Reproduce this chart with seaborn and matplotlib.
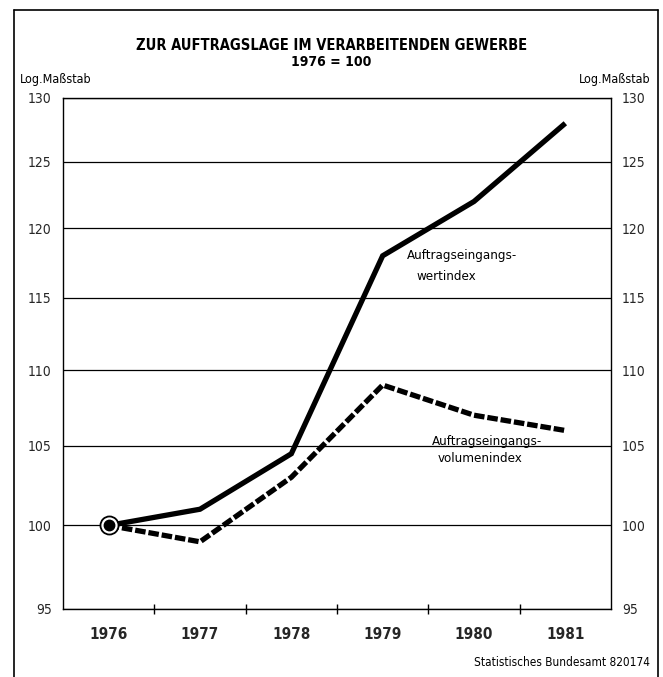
import numpy as np
import pandas as pd
import matplotlib
matplotlib.use("Agg")
import matplotlib.pyplot as plt
import seaborn as sns
from matplotlib.lines import Line2D
from matplotlib.ticker import FixedLocator, NullFormatter, NullLocator

# Data (1976 = 100)
years = [1976, 1977, 1978, 1979, 1980, 1981]
wertindex = [100, 101, 104.5, 118, 122, 128]
volumenindex = [100, 99, 103, 109, 107, 106]
y_ticks = [95, 100, 105, 110, 115, 120, 125, 130]

df = pd.DataFrame({
    "Jahr": years * 2,
    "Index": wertindex + volumenindex,
    "Reihe": ["wert"] * len(years) + ["volumen"] * len(years),
})

sns.set_theme(style="white")
plt.rcParams["font.family"] = ["DejaVu Sans"]
plt.rcParams["font.stretch"] = "condensed"
plt.rcParams["text.color"] = "black"

fig = plt.figure(figsize=(6.63, 6.77), dpi=100)
W, H = 663, 677
ax = fig.add_axes([63 / W, 1 - 609 / H, (611 - 63) / W, (609 - 98) / H])

sns.lineplot(data=df, x="Jahr", y="Index", style="Reihe", hue="Reihe",
             palette={"wert": "black", "volumen": "black"},
             dashes={"wert": "", "volumen": (2.0, 0.55)},
             linewidth=3.8, legend=False, ax=ax)
for ln in ax.get_lines():
    ln.set_solid_capstyle("butt")
    ln.set_dash_capstyle("butt")
    ln.set_solid_joinstyle("miter")

# start marker
ax.plot(years[0], wertindex[0], marker="o", ms=13, mfc="white", mec="black",
        mew=1.3, zorder=5)
ax.plot(years[0], wertindex[0], marker="o", ms=7.5, color="black", zorder=6)

ax.set_yscale("log")
ax.set_ylim(95, 130)
ax.yaxis.set_major_locator(FixedLocator(y_ticks))
ax.yaxis.set_minor_locator(NullLocator())
ax.set_yticklabels([str(t) for t in y_ticks])
ax.yaxis.set_minor_formatter(NullFormatter())
ax.tick_params(axis="y", which="both", length=0, pad=8, labelsize=10,
               left=True, right=True, labelleft=True, labelright=True)
ax.grid(axis="y", color="black", linewidth=0.9)

ax.set_xlim(years[0] - 0.5, years[-1] + 0.5)
ax.set_xticks(years)
ax.set_xticklabels([str(y) for y in years], fontweight="bold", fontsize=11)
ax.set_xticks([y + 0.5 for y in years[:-1]], minor=True)
ax.tick_params(axis="x", which="major", length=0, pad=13)
ax.tick_params(axis="x", which="minor", length=7, width=1, direction="inout",
               color="black", bottom=True)
ax.set_xlabel("")
ax.set_ylabel("")

for side in ["left", "right", "bottom", "top"]:
    ax.spines[side].set_visible(True)
    ax.spines[side].set_color("black")
    ax.spines[side].set_linewidth(1)

# labels on the lines
ax.text(1979.27, 118.0, "Auftragseingangs-", fontsize=9.5, ha="left", va="center")
ax.text(1979.37, 116.5, "wertindex", fontsize=9.5, ha="left", va="center")
ax.text(1979.54, 105.3, "Auftragseingangs-", fontsize=9.5, ha="left", va="center")
ax.text(1979.60, 104.2, "volumenindex", fontsize=9.5, ha="left", va="center")

# titles and notes
fig.text(0.5, 1 - 45 / H, "ZUR AUFTRAGSLAGE IM VERARBEITENDEN GEWERBE",
         ha="center", va="center", fontsize=10.5, fontweight="bold")
fig.text(0.5, 1 - 62 / H, "1976 = 100", ha="center", va="center",
         fontsize=10, fontweight="bold")
fig.text(20 / W, 1 - 80 / H, "Log.Maßstab", ha="left", va="center", fontsize=9)
fig.text(650 / W, 1 - 80 / H, "Log.Maßstab", ha="right", va="center", fontsize=9)
fig.text(650 / W, 1 - 663 / H, "Statistisches Bundesamt 820174", ha="right",
         va="center", fontsize=8.5)

# outer frame (open at the bottom)
fx0, fx1, fy1 = 14 / W, 658 / W, 1 - 10 / H
for xs, ys in [([fx0, fx0], [0, fy1]), ([fx0, fx1], [fy1, fy1]), ([fx1, fx1], [fy1, 0])]:
    fig.add_artist(Line2D(xs, ys, color="black", linewidth=1.2))

fig.savefig("out.png", dpi=100, facecolor="white")
